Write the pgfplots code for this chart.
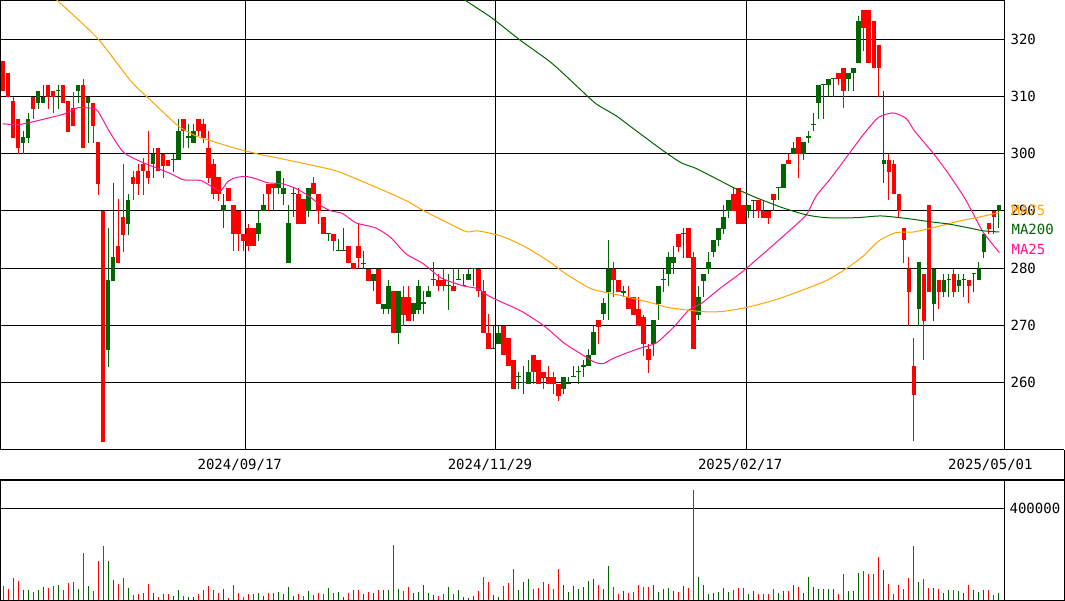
\documentclass[border=0pt]{standalone}
\usepackage{pgfplots}
\pgfplotsset{compat=1.18}
\usepackage{pgfplotstable}
\usepackage{fontspec}
\newfontfamily\lab{DejaVu Sans Mono}
\newcommand\labf{\lab\fontsize{14pt}{16pt}\selectfont}
\definecolor{cr}{RGB}{255,0,0}
\definecolor{cg}{RGB}{0,100,0}
\definecolor{ma25}{RGB}{255,20,147}
\definecolor{ma75}{RGB}{255,165,0}
\definecolor{ma200}{RGB}{0,100,0}

\pgfplotstableread{
x bot top lo hi v
2.5 311.0 316.1 311.0 316.1 61000
7.5 309.8 314.0 309.8 314.0 49000
12.5 302.8 309.1 302.8 309.8 97000
17.5 300.9 306.1 300.0 306.1 83000
32.5 307.8 309.9 306.1 309.9 35000
47.5 309.9 312.0 307.8 312.0 54000
52.5 309.9 311.0 307.0 311.0 61000
62.5 308.9 312.0 308.9 312.0 44000
67.5 303.8 309.1 303.8 309.1 76000
72.5 304.9 308.0 304.9 310.8 79000
82.5 300.9 312.0 300.9 313.1 207000
92.5 304.9 308.9 301.9 308.9 39000
97.5 294.7 302.1 292.8 302.1 170000
102.5 249.6 290.0 249.6 290.0 236000
117.5 280.8 283.9 280.8 292.1 71000
122.5 285.8 289.0 282.8 298.2 97000
132.5 294.7 295.9 291.9 297.0 22000
137.5 294.7 297.0 292.8 298.2 25000
142.5 297.0 298.2 292.8 299.3 32000
147.5 295.8 297.0 294.7 304.0 71000
157.5 297.0 301.0 297.0 301.0 15000
162.5 297.9 300.0 295.8 300.0 28000
167.5 297.9 298.9 297.9 298.9 28000
182.5 304.0 306.1 300.9 306.1 17000
197.5 304.0 306.1 303.0 306.1 25000
202.5 302.8 305.1 301.9 306.1 44000
207.5 295.8 301.0 294.9 304.0 61000
212.5 293.0 298.2 292.1 299.1 44000
217.5 293.0 295.9 291.8 295.9 32000
227.5 291.8 294.0 291.8 294.0 10000
232.5 286.0 291.1 283.0 291.1 65000
237.5 286.0 290.0 283.0 290.0 29000
242.5 284.8 286.0 283.0 286.0 13000
247.5 283.9 287.0 283.0 287.7 25000
252.5 283.9 287.0 283.9 287.0 28000
267.5 293.0 294.7 290.0 294.7 32000
272.5 294.0 294.7 290.0 294.7 32000
297.5 287.7 293.0 287.7 294.0 25000
302.5 287.7 292.1 287.7 292.1 17000
312.5 293.0 294.9 293.0 295.9 22000
317.5 290.0 293.0 287.7 293.0 29000
322.5 286.0 289.0 286.0 289.0 25000
332.5 284.8 286.0 283.0 286.0 32000
347.5 280.8 283.9 280.8 283.9 29000
352.5 279.9 280.8 279.9 280.8 44000
357.5 281.8 283.9 280.0 287.7 44000
367.5 277.8 279.9 277.8 279.9 36000
377.5 273.8 279.9 273.8 279.9 44000
392.5 268.7 276.0 268.7 276.0 240000
402.5 271.8 275.0 269.9 276.9 39000
407.5 270.8 275.0 270.8 276.9 58000
437.5 276.9 278.0 276.0 279.0 17000
442.5 276.9 278.0 276.0 279.9 28000
452.5 276.0 276.9 276.0 279.9 28000
477.5 276.0 279.9 275.0 279.9 39000
482.5 268.7 276.0 268.7 278.0 100000
487.5 265.9 268.7 265.9 272.0 80000
502.5 264.8 269.9 264.8 269.9 61000
507.5 262.9 267.8 262.9 267.8 76000
512.5 258.9 264.0 258.9 264.0 137000
532.5 261.9 264.8 259.8 264.8 49000
537.5 259.8 264.0 259.8 264.0 54000
542.5 260.8 261.9 258.9 261.9 80000
547.5 259.8 261.0 259.8 262.9 71000
552.5 259.8 261.0 258.0 261.9 47000
557.5 257.7 259.8 256.8 259.8 137000
597.5 269.7 271.0 266.8 271.0 64000
612.5 278.0 279.9 275.0 281.0 58000
617.5 275.8 278.0 275.8 278.0 25000
627.5 272.9 275.0 272.9 276.9 32000
632.5 271.8 275.0 271.8 275.0 36000
637.5 269.9 272.9 269.9 275.0 65000
642.5 266.8 271.5 264.7 271.8 58000
647.5 264.0 265.9 261.7 266.8 58000
677.5 283.7 286.0 282.8 286.0 36000
687.5 281.8 287.0 281.8 287.0 54000
692.5 265.9 282.0 265.9 282.8 480000
732.5 290.0 293.0 290.0 294.0 44000
737.5 287.7 294.0 287.7 294.0 54000
742.5 287.7 291.1 287.7 291.1 54000
757.5 290.0 291.9 288.8 291.9 25000
762.5 288.8 290.0 288.8 291.9 25000
767.5 288.8 290.0 287.7 290.0 25000
772.5 291.9 293.0 290.0 293.0 47000
787.5 298.1 298.9 298.1 300.0 39000
797.5 300.0 302.9 295.8 302.9 58000
837.5 313.1 314.0 312.0 314.0 28000
842.5 311.0 315.0 308.0 315.0 115000
862.5 322.0 325.0 318.0 325.0 127000
867.5 315.9 325.0 315.9 325.0 112000
872.5 315.0 323.1 315.0 323.1 115000
877.5 315.0 319.0 309.9 319.0 188000
887.5 296.8 298.9 291.9 300.0 71000
892.5 293.0 298.1 293.0 298.9 28000
897.5 290.0 293.0 289.0 293.0 64000
902.5 284.9 287.0 280.8 287.0 49000
907.5 275.8 279.9 269.9 282.0 97000
912.5 257.8 262.9 249.8 267.8 236000
922.5 270.8 279.0 264.0 279.0 93000
927.5 275.8 291.1 275.8 291.1 54000
937.5 275.8 278.0 272.9 278.0 47000
952.5 275.8 279.0 275.0 279.9 44000
967.5 276.9 278.0 273.9 278.0 65000
987.5 286.9 287.9 286.0 287.9 44000
992.5 289.0 290.0 286.0 290.0 22000
}\redc

\pgfplotstableread{
x bot top lo hi v
22.5 301.9 302.9 300.0 304.0 44000
27.5 302.8 306.1 301.9 307.0 44000
37.5 308.9 311.0 307.8 311.0 44000
42.5 308.9 309.9 308.9 312.0 58000
57.5 310.9 311.1 307.8 312.0 65000
77.5 311.0 312.0 308.9 312.0 49000
87.5 308.9 309.9 301.9 309.9 61000
107.5 265.7 278.0 262.7 287.0 170000
112.5 277.8 282.0 277.8 294.9 87000
127.5 287.7 291.9 285.8 293.0 54000
152.5 298.2 300.0 295.8 300.9 29000
172.5 298.8 299.0 296.8 300.0 17000
177.5 298.9 304.0 298.9 306.1 44000
187.5 302.8 303.0 300.9 305.1 13000
192.5 301.9 304.0 301.9 305.1 15000
222.5 290.0 291.1 287.0 293.0 48000
257.5 286.0 287.9 284.8 290.0 32000
262.5 290.0 291.1 290.0 293.0 17000
277.5 294.0 297.0 293.0 297.0 36000
282.5 293.0 294.0 291.1 295.8 28000
287.5 280.8 287.9 280.8 291.1 58000
292.5 292.9 293.1 289.0 294.0 17000
307.5 290.0 294.0 289.0 294.0 39000
327.5 285.9 286.1 284.8 286.1 54000
337.5 282.9 283.1 282.9 285.1 35000
342.5 282.9 283.1 282.9 287.0 15000
362.5 280.7 280.9 279.9 283.0 25000
372.5 277.8 279.0 276.0 279.0 32000
382.5 272.9 273.8 272.0 273.8 44000
387.5 272.9 276.9 272.0 278.0 44000
397.5 268.7 276.0 266.8 276.0 49000
412.5 272.0 273.9 270.8 273.9 29000
417.5 272.7 276.9 272.0 278.0 36000
422.5 273.8 274.0 272.0 276.0 65000
427.5 275.0 276.0 275.0 276.9 32000
432.5 277.9 278.1 276.9 281.0 22000
447.5 276.8 277.0 272.7 279.0 58000
457.5 277.9 278.1 277.9 279.9 44000
462.5 276.8 277.0 276.8 279.0 15000
467.5 278.0 279.0 278.0 279.9 10000
472.5 279.8 280.0 276.9 280.0 17000
492.5 265.8 266.0 265.8 269.9 22000
497.5 266.8 268.7 266.8 269.9 15000
517.5 260.9 261.1 258.9 261.9 44000
522.5 259.9 260.1 258.0 262.9 80000
527.5 259.8 261.9 259.8 264.0 93000
562.5 258.9 261.0 258.0 261.0 65000
567.5 259.7 260.0 259.7 261.0 35000
572.5 260.9 261.1 260.9 262.9 61000
577.5 261.8 262.0 259.8 262.9 49000
582.5 262.8 263.0 261.0 264.0 58000
587.5 262.9 264.8 262.9 265.9 83000
592.5 264.8 268.9 264.8 269.9 93000
602.5 272.0 273.9 271.0 274.8 49000
607.5 275.8 279.9 271.0 284.9 148000
622.5 275.7 276.0 275.0 276.9 39000
652.5 266.8 271.0 264.7 271.0 65000
657.5 273.8 276.9 271.0 276.9 35000
662.5 277.9 278.1 275.8 279.9 47000
667.5 279.0 282.0 276.9 282.8 54000
672.5 280.8 282.0 279.0 283.9 39000
682.5 285.9 286.1 281.8 287.0 61000
697.5 271.8 275.0 271.0 276.9 100000
702.5 277.8 279.0 275.0 279.0 65000
707.5 279.9 281.0 279.0 282.8 25000
712.5 282.8 284.9 282.0 284.9 32000
717.5 284.9 287.0 283.9 287.0 36000
722.5 286.9 289.0 286.0 291.1 54000
727.5 290.0 291.9 288.8 291.9 36000
747.5 290.0 291.1 288.8 291.1 28000
752.5 291.7 291.9 288.8 291.9 39000
777.5 293.9 294.1 291.9 294.1 32000
782.5 294.0 298.1 294.0 298.1 39000
792.5 300.0 301.0 300.0 302.1 65000
802.5 300.0 302.1 298.9 302.1 32000
807.5 302.8 303.0 301.9 304.0 100000
812.5 305.0 305.2 304.0 307.0 58000
817.5 308.9 312.0 306.1 312.0 47000
822.5 311.9 312.1 306.1 312.1 47000
827.5 312.0 313.1 309.9 313.1 47000
832.5 313.0 313.2 309.9 313.2 47000
847.5 313.1 314.0 311.0 314.0 39000
852.5 314.0 315.0 311.0 315.0 39000
857.5 315.9 323.1 315.9 324.1 119000
882.5 298.1 298.9 294.9 311.0 131000
917.5 272.9 281.0 269.9 281.0 79000
932.5 273.8 279.9 270.8 279.9 54000
942.5 275.8 278.0 275.0 279.0 32000
947.5 277.9 278.1 275.0 279.0 44000
957.5 276.9 278.0 275.8 279.0 39000
962.5 277.9 278.1 275.0 279.0 32000
972.5 278.9 279.1 275.8 279.1 44000
977.5 278.0 279.9 278.0 281.0 35000
982.5 282.8 286.0 281.8 286.0 42000
997.5 290.0 291.1 287.0 291.1 32000
}\greenc

\pgfplotsset{candle/.style 2 args={only marks, mark=*, mark size=0pt,
  mark options={draw=none, fill=none}, forget plot,
  error bars/.cd, y dir=plus, y explicit, error mark=none,
  error bar style={draw=#1, line width=#2}}}

\begin{document}
\begin{tikzpicture}[x=1pt,y=1pt]
\begin{axis}[at={(0pt,151pt)}, anchor=south west, scale only axis,
  width=1003pt, height=449pt,
  xmin=0, xmax=1003, ymin=248.23, ymax=326.73,
  axis line style={black, line width=1.1pt},
  ytick={260,270,280,290,300,310,320},
  yticklabels={260,270,280,290,300,310,320},
  ytick pos=right, yticklabel pos=right,
  yticklabel style={font=\labf, anchor=west, inner sep=0pt, xshift=6pt},
  ymajorgrids, grid style={black, line width=1pt},
  major tick length=0pt,
  xtick={239,489,739,989},
  xticklabels={2024/09/17,2024/11/29,2025/02/17,2025/05/01},
  xticklabel style={font=\labf, anchor=center, inner sep=0pt, yshift=-15pt},
  extra x ticks={245,495,745}, extra x tick labels={},
  extra x tick style={grid=major, major tick length=0pt},
  clip=true]
% wicks
\addplot[candle={cr}{1pt}]
  table[x=x, y=lo, y error plus expr={\thisrow{hi}-\thisrow{lo}}] {\redc};
\addplot[candle={cg}{1pt}]
  table[x=x, y=lo, y error plus expr={\thisrow{hi}-\thisrow{lo}}] {\greenc};
% bodies
\addplot[candle={cr}{4.6pt}]
  table[x=x, y=bot, y error plus expr={\thisrow{top}-\thisrow{bot}}] {\redc};
\addplot[candle={cg}{4.6pt}]
  table[x=x, y=bot, y error plus expr={\thisrow{top}-\thisrow{bot}}] {\greenc};
% MA25
\addplot[ma25, line width=1pt, mark=none, smooth, tension=0.4] coordinates {
(2,305.2)(20,305.1)(50,306.3)(65,307.0)(77,308.0)(95,307.8)(100,306.6)(110,303.5)
(123,300.2)(140,298.6)(157,297.4)(170,296.5)(183,295.4)(200,295.3)(213,294.0)(220,293.5)
(227,295.1)(235,295.8)(245,296.0)(255,295.6)(267,294.9)(282,294.7)(295,293.9)(308,292.6)
(320,290.9)(330,290.0)(342,289.5)(355,287.9)(375,287.0)(390,285.3)(405,282.5)(422,280.8)
(440,278.3)(462,276.9)(477,276.4)(487,275.2)(500,274.1)(520,272.5)(543,269.9)(563,266.9)
(580,265.0)(593,263.6)(602,263.3)(613,264.3)(637,265.9)(655,266.9)(672,269.6)(688,272.7)
(700,273.8)(720,276.6)(740,279.2)(768,283.4)(788,286.5)(805,289.3)(815,292.6)(830,295.8)
(850,300.5)(862,303.3)(877,306.3)(892,307.1)(905,306.1)(913,304.0)(933,299.8)(947,296.5)
(963,292.3)(973,289.1)(982,286.2)(998,282.7)};
% MA75
\addplot[ma75, line width=1pt, mark=none, smooth, tension=0.4] coordinates {
(40,329.3)(57,326.7)(97,320.1)(130,312.7)(147,309.8)(177,304.9)(195,303.1)(207,302.4)
(233,301.0)(260,299.8)(275,299.3)(305,298.2)(335,297.0)(355,295.6)(378,293.9)(405,291.8)
(423,290.0)(457,287.0)(467,286.3)(477,286.5)(500,285.6)(522,283.9)(547,281.3)(563,279.2)
(590,276.4)(620,275.2)(653,273.8)(667,273.1)(700,272.4)(720,272.4)(745,273.1)(775,274.5)
(805,276.4)(825,277.8)(845,279.9)(862,282.1)(878,284.8)(895,286.2)(912,286.3)(935,287.2)
(955,288.1)(975,288.8)(998,289.7)};
% MA200
\addplot[ma200, line width=1pt, mark=none, smooth, tension=0.4] coordinates {
(450,328.8)(465,326.7)(490,323.8)(520,319.7)(550,315.9)(575,311.9)(595,308.7)(615,306.6)
(635,304.0)(662,300.5)(680,298.4)(695,297.4)(713,295.8)(733,294.0)(755,292.3)(782,290.5)
(805,289.3)(825,288.8)(855,288.8)(880,289.1)(908,288.6)(928,288.1)(947,287.7)(968,287.0)
(982,286.5)(998,286.3)};
\end{axis}

\begin{axis}[at={(0pt,1pt)}, anchor=south west, scale only axis,
  width=1003pt, height=120pt,
  xmin=0, xmax=1003, ymin=0, ymax=523000,
  axis line style={black, line width=1.1pt},
  xtick=\empty, ytick={400000}, yticklabels={400000}, scaled y ticks=false,
  ytick pos=right, yticklabel pos=right,
  yticklabel style={font=\labf, anchor=west, inner sep=0pt, xshift=5pt},
  ymajorgrids, grid style={black, line width=1pt},
  major tick length=0pt]
\addplot[ycomb, cr, line width=1pt, mark=none] table[x=x, y=v] {\redc};
\addplot[ycomb, cg, line width=1pt, mark=none] table[x=x, y=v] {\greenc};
\end{axis}

\draw[line width=1.1pt] (0,151) -- (1063,151);
\draw[line width=1.1pt] (0,121) -- (1063,121);
\draw[line width=1.1pt] (1063,151) -- (1063,1) -- (1003,1);
\node[font=\labf, text=ma75, anchor=west, inner sep=0pt] at (1010,390) {MA75};
\node[font=\labf, text=ma200, anchor=west, inner sep=0pt] at (1010,371) {MA200};
\node[font=\labf, text=ma25, anchor=west, inner sep=0pt] at (1010,351) {MA25};
\end{tikzpicture}
\end{document}
